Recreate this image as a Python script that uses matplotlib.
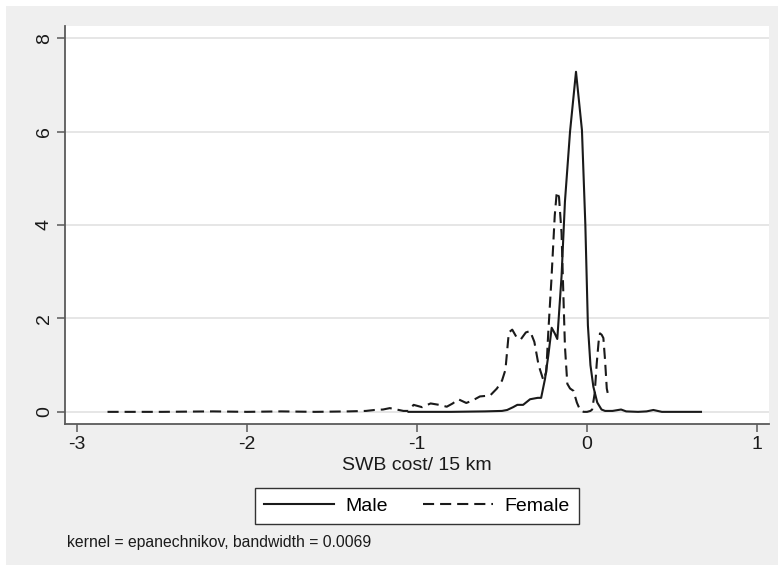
import numpy as np
import matplotlib.pyplot as plt
from matplotlib.patches import Rectangle

plt.rcParams['font.family'] = ['Liberation Sans', 'DejaVu Sans']
plt.rcParams['lines.scale_dashes'] = False

# kernel density estimates
male_x = [-1.05, -0.8, -0.6, -0.5, -0.47, -0.435, -0.41, -0.376, -0.335, -0.29,
          -0.27, -0.247, -0.228, -0.208, -0.19, -0.175, -0.15, -0.13, -0.10, -0.065,
          -0.03, -0.01, 0.005, 0.02, 0.037, 0.06, 0.085, 0.106, 0.15, 0.2,
          0.23, 0.3, 0.35, 0.39, 0.44, 0.5, 0.67]
male_y = [0.0, 0.0, 0.01, 0.02, 0.04, 0.1, 0.15, 0.15, 0.27, 0.3,
          0.3, 0.71, 1.2, 1.8, 1.68, 1.56, 2.9, 4.5, 6.0, 7.28,
          6.03, 4.0, 1.85, 1.0, 0.54, 0.2, 0.05, 0.02, 0.02, 0.05,
          0.01, 0.0, 0.01, 0.04, 0.0, 0.0, 0.0]

female_x = [-2.82, -2.5, -2.2, -2.0, -1.8, -1.6, -1.4, -1.3, -1.25, -1.2,
            -1.16, -1.12, -1.08, -1.05, -1.02, -0.97, -0.92, -0.87, -0.825, -0.79,
            -0.757, -0.71, -0.67, -0.63, -0.57, -0.53, -0.50, -0.48, -0.46, -0.44,
            -0.415, -0.39, -0.36, -0.335, -0.31, -0.285, -0.257, -0.24, -0.228, -0.21,
            -0.19, -0.178, -0.165, -0.15, -0.14, -0.13, -0.116, -0.10, -0.08, -0.06,
            -0.04, -0.02, 0.0, 0.02, 0.03, 0.045, 0.057, 0.068, 0.076, 0.086,
            0.096, 0.106, 0.116, 0.124]
female_y = [0.0, 0.0, 0.01, 0.0, 0.01, 0.0, 0.01, 0.02, 0.04, 0.05,
            0.08, 0.05, 0.02, 0.02, 0.15, 0.1, 0.18, 0.15, 0.11, 0.18,
            0.27, 0.19, 0.25, 0.33, 0.35, 0.5, 0.67, 0.9, 1.7, 1.76,
            1.6, 1.55, 1.7, 1.73, 1.5, 1.0, 0.68, 0.85, 1.7, 2.8,
            4.2, 4.71, 4.6, 3.83, 2.6, 1.4, 0.6, 0.5, 0.45, 0.2,
            0.03, 0.0, 0.0, 0.02, 0.05, 0.4, 1.04, 1.5, 1.68, 1.65,
            1.58, 1.1, 0.5, 0.36]

x_ticks = [-3, -2, -1, 0, 1]
y_ticks = [0, 2, 4, 6, 8]

fig = plt.figure(figsize=(7.84, 5.71), dpi=100, facecolor='white')
# stata-style grey graph region
fig.patches.append(Rectangle((6 / 784, 6 / 571), 772 / 784, 559 / 571,
                             transform=fig.transFigure, facecolor='#efefef',
                             edgecolor='none', zorder=-5))

ax = fig.add_axes([65 / 784, 1 - 424 / 571, 704 / 784, 398 / 571])
ax.set_zorder(2)
ax.set_facecolor('white')

ax.plot(male_x, male_y, color='#1a1a1a', lw=1.5, label='Male')
ax.plot(female_x, female_y, color='#1a1a1a', lw=1.5, dashes=(8, 4.3), label='Female')

ax.set_xlim(-3.07, 1.07)
ax.set_ylim(-0.26, 8.26)
ax.set_xticks(x_ticks)
ax.set_yticks(y_ticks)
ax.set_xticklabels([str(t) for t in x_ticks])
ax.set_yticklabels([str(t) for t in y_ticks], rotation=90, va='center')
ax.grid(axis='y', color='#e6e6e6', lw=1.4)
ax.set_axisbelow(True)

for s in ['top', 'right']:
    ax.spines[s].set_visible(False)
for s in ['left', 'bottom']:
    ax.spines[s].set_color('#5a5a5a')
    ax.spines[s].set_linewidth(1.3)
ax.tick_params(direction='out', length=5.8, width=1.1, color='#5a5a5a',
               labelsize=14, labelcolor='#1a1a1a', pad=3)

ax.set_xlabel('SWB cost/ 15 km', fontsize=14, color='#1a1a1a', labelpad=3)

leg = fig.legend(loc='center', bbox_to_anchor=(417 / 784, 1 - 506 / 571), ncol=2,
                 fontsize=14, frameon=True, fancybox=False, edgecolor='#333333',
                 handlelength=3.6, handletextpad=0.6, columnspacing=1.8,
                 borderpad=0.45)
leg.get_frame().set_linewidth(1.0)
leg.get_frame().set_facecolor('white')
leg.get_frame().set_alpha(1)

fig.text(67 / 784, 1 - 543 / 571, 'kernel = epanechnikov, bandwidth = 0.0069',
         fontsize=11.3, color='#1a1a1a', va='center', ha='left')

fig.savefig('out.png', dpi=100, facecolor='white')
